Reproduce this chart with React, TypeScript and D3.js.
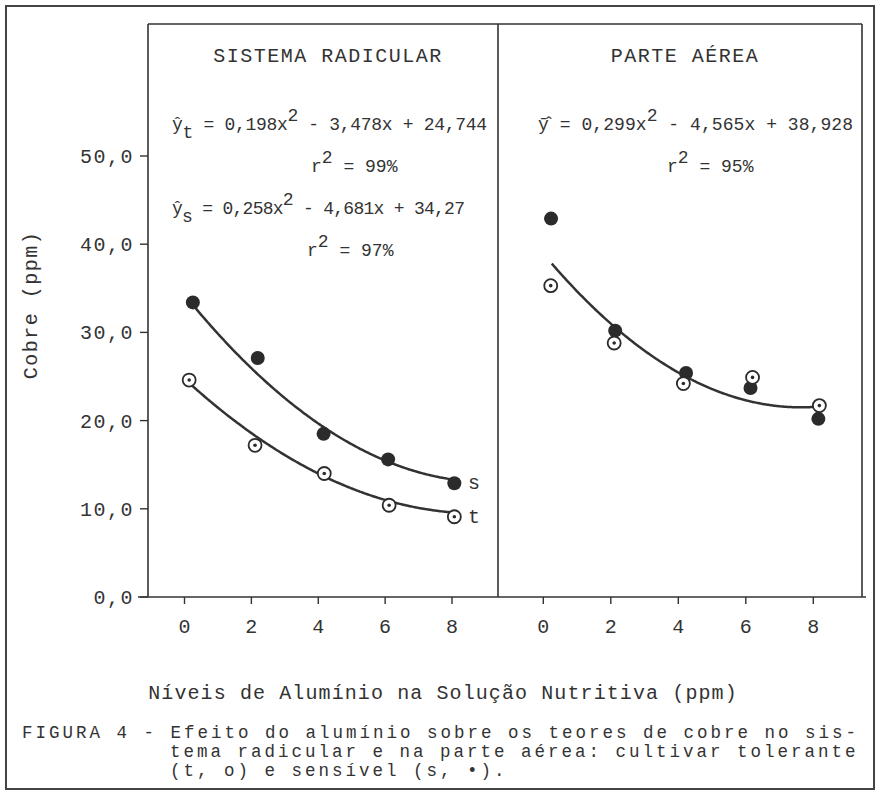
import React from "react";
import * as d3 from "d3";

const width = 878;
const height = 792;

const levels = [0, 2, 4, 6, 8];
const yTicks = [0, 10, 20, 30, 40, 50];

// values (Cobre, ppm); the dots sit a hair right of the ticks
const raizSensX = [0.25, 2.19, 4.16, 6.09, 8.07];
const raizSens = [33.4, 27.1, 18.5, 15.6, 12.9];
const raizTolX = [0.14, 2.11, 4.18, 6.12, 8.07];
const raizTol = [24.6, 17.2, 14.0, 10.4, 9.1];
const aereaSensX = [0.23, 2.13, 4.23, 6.14, 8.15];
const aereaSens = [42.9, 30.2, 25.4, 23.7, 20.2];
const aereaTolX = [0.22, 2.1, 4.15, 6.2, 8.18];
const aereaTol = [35.3, 28.8, 24.2, 24.9, 21.7];

// printed regression coefficients: a x^2 + b x + c
const coefRaizTol = [0.198, -3.478, 24.744];
const coefRaizSens = [0.258, -4.681, 34.27];
const coefAerea = [0.299, -4.565, 38.928];

const FONT = "'Liberation Mono', 'DejaVu Sans Mono', monospace";
const INK = "#333";

const y = d3.scaleLinear().domain([0, 50]).range([597, 156]);
const xLeft = d3.scaleLinear().domain([0, 8]).range([184.5, 452]);
const xRight = d3.scaleLinear().domain([0, 8]).range([543.3, 813.3]);

const fmtY = (v) => d3.format(".1f")(v).replace(".", ",");

const fitPath = (coef, x0, x1, xs) => {
  const [a, b, c] = coef;
  const pts = d3.range(x0, x1 + 0.001, 0.05).map((v) => [v, a * v * v + b * v + c]);
  return d3
    .line()
    .x((d) => xs(d[0]))
    .y((d) => y(d[1]))
    .curve(d3.curveMonotoneX)(pts);
};

const Filled = ({ cx, cy }) => <circle cx={cx} cy={cy} r={7} fill="#2b2b2b" />;

const Open = ({ cx, cy }) => (
  <g>
    <circle cx={cx} cy={cy} r={6.5} fill="#fff" stroke="#2b2b2b" strokeWidth={1.8} />
    <circle cx={cx} cy={cy} r={1.8} fill="#2b2b2b" />
  </g>
);

const Sup = ({ children }) => <tspan dy={-9}>{children}</tspan>;

export default function App() {
  const txt = { fontFamily: FONT, fill: INK, fontSize: 20, letterSpacing: 1.5 };
  const cap = { fontFamily: FONT, fill: INK, fontSize: 17.5, letterSpacing: 3 };
  const eq = { fontFamily: FONT, fill: INK, fontSize: 18 };

  return (
    <svg
      width={width}
      height={height}
      style={{ position: "absolute", left: 0, top: 0, background: "#fff" }}
    >
      {/* outer frame */}
      <rect x={6} y={6} width={868} height={783} fill="none" stroke="#444" strokeWidth={2} />

      {/* plot box */}
      <line x1={148} x2={148} y1={24} y2={597} stroke={INK} strokeWidth={1.6} />
      <line x1={148} x2={862} y1={24} y2={24} stroke={INK} strokeWidth={1.6} />
      <line x1={862} x2={862} y1={24} y2={597} stroke={INK} strokeWidth={1.6} />
      <line x1={498} x2={498} y1={24} y2={597} stroke={INK} strokeWidth={1.6} />
      <line x1={138} x2={866} y1={597} y2={597} stroke={INK} strokeWidth={1.6} />

      {/* y axis */}
      {yTicks.map((t) => (
        <g key={t}>
          <line x1={140} x2={148} y1={y(t)} y2={y(t)} stroke={INK} strokeWidth={1.4} />
          <text x={134} y={y(t) + 7} textAnchor="end" {...txt}>
            {fmtY(t)}
          </text>
        </g>
      ))}
      <text transform="translate(37,305) rotate(-90)" textAnchor="middle" {...txt}>
        Cobre (ppm)
      </text>

      {/* x ticks, both panels */}
      {[xLeft, xRight].map((xs, i) =>
        levels.map((l) => (
          <g key={`${i}-${l}`}>
            <line x1={xs(l)} x2={xs(l)} y1={597} y2={604} stroke={INK} strokeWidth={1.4} />
            <text x={xs(l)} y={633} textAnchor="middle" {...txt} letterSpacing={0}>
              {l}
            </text>
          </g>
        ))
      )}

      {/* panel titles */}
      <text x={328} y={62} textAnchor="middle" {...txt}>
        SISTEMA RADICULAR
      </text>
      <text x={685} y={62} textAnchor="middle" {...txt}>
        PARTE AÉREA
      </text>

      {/* equations */}
      <text x={172} y={130} {...eq} textLength={315} lengthAdjust="spacing">
        ŷ<tspan dy={8}>t</tspan>
        <tspan dy={-8}> = 0,198x</tspan>
        <Sup>2</Sup>
        <tspan dy={9}> - 3,478x + 24,744</tspan>
      </text>
      <text x={311} y={172} {...eq}>
        r<Sup>2</Sup>
        <tspan dy={9}> = 99%</tspan>
      </text>
      <text x={172} y={214} {...eq} textLength={293} lengthAdjust="spacing">
        ŷ<tspan dy={8}>s</tspan>
        <tspan dy={-8}> = 0,258x</tspan>
        <Sup>2</Sup>
        <tspan dy={9}> - 4,681x + 34,27</tspan>
      </text>
      <text x={307} y={256} {...eq}>
        r<Sup>2</Sup>
        <tspan dy={9}> = 97%</tspan>
      </text>

      <text x={538} y={130} {...eq} textLength={315} lengthAdjust="spacing">
        {"\u0233\u0302 = 0,299x"}
        <Sup>2</Sup>
        <tspan dy={9}> - 4,565x + 38,928</tspan>
      </text>
      <text x={667} y={172} {...eq}>
        r<Sup>2</Sup>
        <tspan dy={9}> = 95%</tspan>
      </text>

      {/* fitted curves */}
      <path d={fitPath(coefRaizSens, 0.25, 8.07, xLeft)} fill="none" stroke={INK} strokeWidth={2.5} />
      <path d={fitPath(coefRaizTol, 0.14, 8.07, xLeft)} fill="none" stroke={INK} strokeWidth={2.5} />
      <path d={fitPath(coefAerea, 0.25, 8.1, xRight)} fill="none" stroke={INK} strokeWidth={2.5} />

      {/* points */}
      {raizSens.map((v, i) => (
        <Filled key={`rs${i}`} cx={xLeft(raizSensX[i])} cy={y(v)} />
      ))}
      {raizTol.map((v, i) => (
        <Open key={`rt${i}`} cx={xLeft(raizTolX[i])} cy={y(v)} />
      ))}
      {aereaSens.map((v, i) => (
        <Filled key={`as${i}`} cx={xRight(aereaSensX[i])} cy={y(v)} />
      ))}
      {aereaTol.map((v, i) => (
        <Open key={`at${i}`} cx={xRight(aereaTolX[i])} cy={y(v)} />
      ))}

      <text x={468} y={y(raizSens[4]) + 6} {...txt}>
        s
      </text>
      <text x={468} y={y(raizTol[4]) + 6} {...txt}>
        t
      </text>

      {/* x axis title */}
      <text x={443} y={699} textAnchor="middle" {...txt} letterSpacing={1.1}>
        Níveis de Alumínio na Solução Nutritiva (ppm)
      </text>

      {/* caption */}
      <text x={22} y={738} {...cap}>
        FIGURA 4 - Efeito do alumínio sobre os teores de cobre no sis-
      </text>
      <text x={170} y={757} {...cap}>
        tema radicular e na parte aérea: cultivar tolerante
      </text>
      <text x={170} y={776} {...cap}>
        (t, o) e sensível (s, •).
      </text>
    </svg>
  );
}
